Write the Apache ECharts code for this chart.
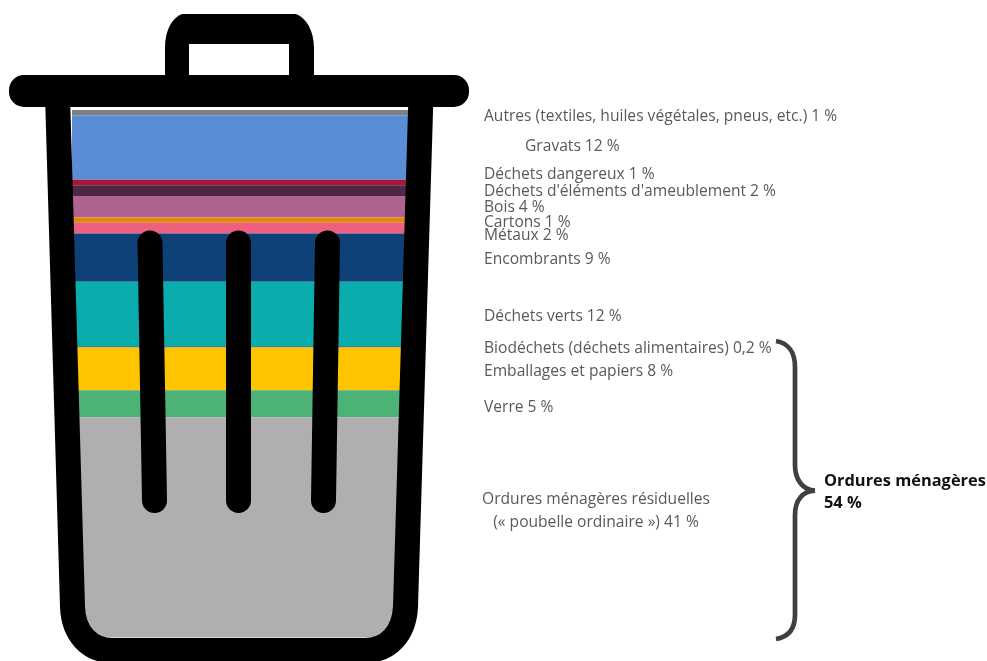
<!DOCTYPE html>
<html lang="fr">
<head>
<meta charset="utf-8">
<title>Composition des déchets</title>
<style>
  html, body { margin: 0; padding: 0; background: #fff; }
  #chart { width: 987px; height: 661px; }
</style>
<script src="https://cdn.jsdelivr.net/npm/echarts@6/dist/echarts.min.js"></script>
</head>
<body>
<div id="chart"></div>
<script>
// Waste stream categories, listed from the top of the bin to the bottom
const categories = [
  'Autres (textiles, huiles végétales, pneus, etc.)',
  'Gravats',
  'Déchets dangereux',
  "Déchets d'éléments d'ameublement",
  'Bois',
  'Cartons',
  'Métaux',
  'Encombrants',
  'Déchets verts',
  'Biodéchets (déchets alimentaires)',
  'Emballages et papiers',
  'Verre',
  'Ordures ménagères résiduelles\n(« poubelle ordinaire »)'
];
const shares = [1, 12, 1, 2, 4, 1, 2, 9, 12, 0.2, 8, 5, 41];
const bandColors = [
  '#808080', '#5b8dd6', '#a91637', '#4f2744', '#b06290', '#dd8a0a', '#ee6080',
  '#0f4179', '#0aadac', '#0a6b70', '#ffc400', '#4db276', '#b0aeaf'
];
const groupLabel = ['Ordures ménagères', '54 %'];

// Hand-placed label anchors: the callouts do not sit on their bands
const labelAnchors = [
  { x: 484, y: 116.5 }, { x: 525, y: 146.5 }, { x: 484, y: 174.5 }, { x: 484, y: 192 },
  { x: 484, y: 208 }, { x: 484, y: 223 }, { x: 484, y: 236 }, { x: 484, y: 260 },
  { x: 484, y: 317 }, { x: 484, y: 349 }, { x: 484, y: 372 }, { x: 484, y: 408 },
  { x: 596, y: 511, align: 'center' }
];

const FONT = '"Open Sans", sans-serif';
const TOTAL = shares.reduce((a, b) => a + b, 0);
const formatShare = v => String(v).replace('.', ',') + ' %';

// The graphic component only knows registered shapes, so each SVG outline gets its own type
function svgShape(name, d) {
  echarts.graphic.registerShape(name, echarts.graphic.extendPath(d, {}));
  return name;
}
const handleShape = svgShape('binHandle',
  'M165 80 L165 48 C165 30 172 18 182 14 L296 14 C306 18 314 30 314 48 L314 80 L289 80 L289 44 L189 44 L189 80 Z');
const bodyShape = svgShape('binBody',
  'M57.5 95 L72.5 607 C73.5 634 90 650.5 112 650.5 L365 650.5 C388 650.5 404 634 405.5 607 L421 95');
const ribShapes = [
  svgShape('binRibLeft', 'M150 243 L154.5 500.5'),
  svgShape('binRibMiddle', 'M238.5 243 L238.5 500.5'),
  svgShape('binRibRight', 'M327.5 243 L323.5 500.5')
];
const braceShape = svgShape('groupBrace',
  'M776 341 C788 343 795 352 795 367 L795 465 C795 480 803 490 815 490.7 C803 491 795 500 795 515 L795 615 C795 630 788 637 776 639');

// Bin outline, drawn over the stacked bar
const binGraphics = [
  { type: handleShape, z: 100, shape: {}, style: { fill: '#000' } },
  { type: 'rect', z: 100, shape: { x: 9, y: 75, width: 460, height: 32, r: 15 }, style: { fill: '#000' } },
  { type: bodyShape, z: 100, shape: {}, style: { fill: 'none', stroke: '#000', lineWidth: 25 } },
  ...ribShapes.map(type => ({
    type, z: 100, shape: {},
    style: { fill: 'none', stroke: '#000', lineWidth: 25, lineCap: 'round' }
  }))
];

// One callout per band, worded from the data arrays
const labelGraphics = categories.map((name, i) => ({
  type: 'text',
  z: 100,
  x: labelAnchors[i].x,
  y: labelAnchors[i].y,
  style: {
    text: name + ' ' + formatShare(shares[i]),
    font: '15.6px ' + FONT,
    fill: '#595959',
    lineHeight: 23,
    textAlign: labelAnchors[i].align || 'left',
    textVerticalAlign: 'middle'
  }
}));

// Brace grouping the household-waste bands, and its caption
const braceGraphics = [
  { type: braceShape, z: 100, shape: {}, style: { fill: 'none', stroke: '#404040', lineWidth: 4.7 } },
  ...groupLabel.map((line, i) => ({
    type: 'text',
    z: 100,
    x: 824,
    y: 481.5 + i * 22,
    style: { text: line, font: 'bold 16.4px ' + FONT, fill: '#111', textVerticalAlign: 'middle' }
  }))
];

const chart = echarts.init(document.getElementById('chart'));
chart.setOption({
  animation: false,
  backgroundColor: '#fff',
  grid: { left: 72, top: 110, width: 336, height: 527.4 },
  xAxis: { type: 'category', data: ['Déchets'], show: false },
  yAxis: { type: 'value', inverse: true, min: 0, max: TOTAL, show: false },
  series: categories.map((name, i) => ({
    name,
    type: 'bar',
    stack: 'bin',
    barWidth: '100%',
    data: [shares[i]],
    itemStyle: { color: bandColors[i] }
  })),
  graphic: { elements: [...binGraphics, ...labelGraphics, ...braceGraphics] }
});
</script>
</body>
</html>
